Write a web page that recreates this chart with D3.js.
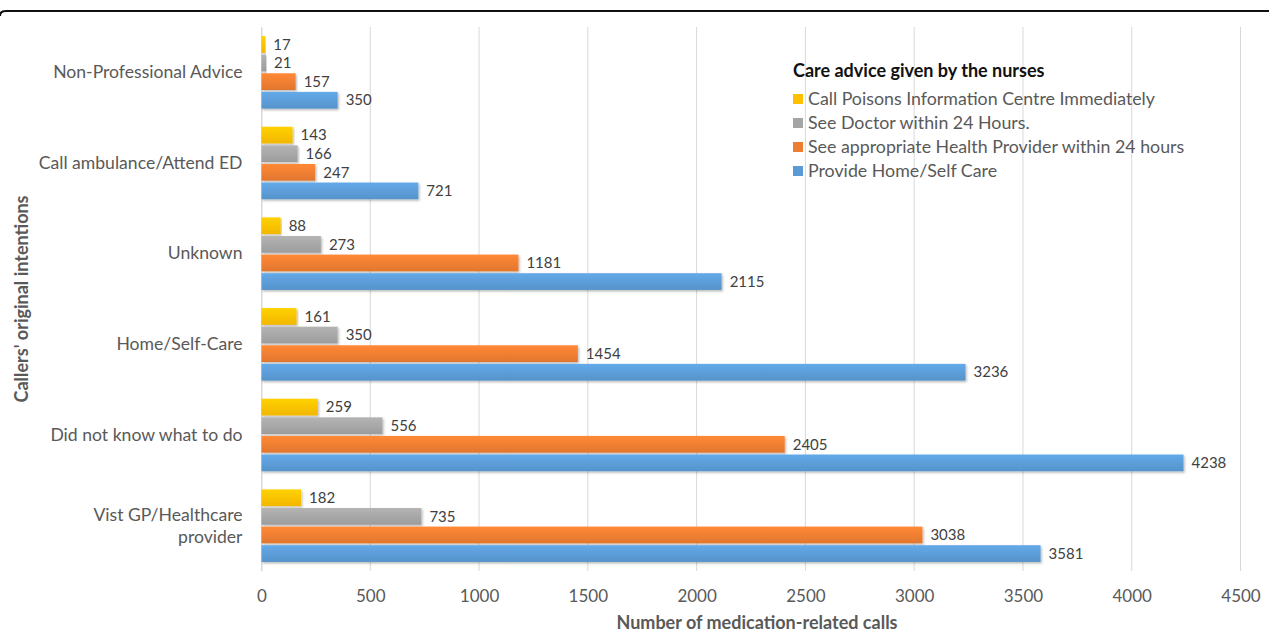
<!DOCTYPE html>
<html><head><meta charset="utf-8">
<script src="https://cdn.jsdelivr.net/npm/d3@7"></script>
<style>html,body{margin:0;padding:0;background:#fff;}svg{display:block;}</style>
</head><body>
<svg id="c" width="1269" height="632"></svg>
<script>
const categories = ["Non-Professional Advice","Call ambulance/Attend ED","Unknown","Home/Self-Care","Did not know what to do","Vist GP/Healthcare provider"];
const seriesNames = ["Call Poisons Information Centre Immediately","See Doctor within 24 Hours.","See appropriate Health Provider within 24 hours","Provide Home/Self Care"];
const poisonsCentre = [17,143,88,161,259,182];
const seeDoctor = [21,166,273,350,556,735];
const healthProvider = [157,247,1181,1454,2405,3038];
const homeSelfCare = [350,721,2115,3236,4238,3581];
const xTicks = [0,500,1000,1500,2000,2500,3000,3500,4000,4500];
const colors = ["#FFC000","#A5A5A5","#ED7D31","#5B9BD5"];

const series = [poisonsCentre, seeDoctor, healthProvider, homeSelfCare];
const font = "Lato, 'Open Sans', sans-serif";
const svg = d3.select("#c");
const W = 1269, H = 632;
const m = {left:261.5, right:W-1240.5, top:27, bottom:H-571};

// top border
svg.append("path").attr("d","M0,16 Q0,11 6,11 L1269,11").attr("fill","none").attr("stroke","#111").attr("stroke-width",2);

const defs = svg.append("defs");
const f = defs.append("filter").attr("id","sh").attr("x","-5%").attr("y","-20%").attr("width","110%").attr("height","160%");
f.append("feDropShadow").attr("dx",1.2).attr("dy",1.5).attr("stdDeviation",1.0).attr("flood-color","#000").attr("flood-opacity",0.28);
colors.forEach((c,i)=>{
  const g = defs.append("linearGradient").attr("id","g"+i).attr("x1",0).attr("y1",0).attr("x2",0).attr("y2",1);
  g.append("stop").attr("offset","0%").attr("stop-color",d3.color(c).brighter(0.25));
  g.append("stop").attr("offset","100%").attr("stop-color",d3.color(c).darker(0.15));
});

const x = d3.scaleLinear().domain([0,4500]).range([m.left, W-m.right]);
const y = d3.scaleBand().domain(categories).range([m.top, H-m.bottom]).paddingInner(0.2).paddingOuter(0.1);
const y1 = d3.scaleBand().domain(d3.range(4)).range([0, y.bandwidth()]).paddingInner(0.1);

// gridlines
svg.append("g").selectAll("line").data(xTicks).join("line")
  .attr("x1",d=>x(d)).attr("x2",d=>x(d)).attr("y1",m.top).attr("y2",H-m.bottom)
  .attr("stroke","#D9D9D9").attr("stroke-width",1);

// x axis labels
const xa = svg.append("g").attr("transform",`translate(0,${H-m.bottom})`)
  .call(d3.axisBottom(x).tickValues(xTicks).tickSize(0).tickPadding(19).tickFormat(d3.format("d")));
xa.select(".domain").remove();
xa.selectAll("text").attr("font-family",font).attr("font-size",17).attr("fill","#595959");

// category labels
const ya = svg.append("g").attr("transform",`translate(${m.left},0)`)
  .call(d3.axisLeft(y).tickSize(0).tickPadding(19));
ya.select(".domain").attr("stroke","#D9D9D9");
ya.selectAll("text").attr("font-family",font).attr("font-size",17.6).attr("fill","#595959")
  .each(function(d){
    if(d==="Vist GP/Healthcare provider"){
      const t = d3.select(this); t.text(null);
      t.append("tspan").attr("x",-19).attr("dy","-0.25em").text("Vist GP/Healthcare");
      t.append("tspan").attr("x",-19).attr("dy","1.25em").text("provider");
    }
  });

// bars
const groups = svg.append("g").selectAll("g").data(categories).join("g")
  .attr("transform",d=>`translate(0,${y(d)})`);
series.forEach((vals,si)=>{
  groups.append("rect")
    .attr("x",x(0)).attr("y",y1(si))
    .attr("width",(d,i)=>x(vals[i])-x(0)).attr("height",y1.bandwidth())
    .attr("fill",`url(#g${si})`).attr("filter","url(#sh)");
  groups.append("text")
    .attr("x",(d,i)=>x(vals[i])+8).attr("y",y1(si)+y1.bandwidth()/2)
    .attr("dy","0.35em").attr("font-family",font).attr("font-size",15).attr("fill","#404040")
    .text((d,i)=>vals[i]);
});

// axis titles
svg.append("text").attr("x",757).attr("y",629).attr("text-anchor","middle")
  .attr("font-family",font).attr("font-weight","bold").attr("font-size",18).attr("fill","#595959")
  .text("Number of medication-related calls");
svg.append("text").attr("transform","translate(28,299) rotate(-90)").attr("text-anchor","middle")
  .attr("font-family",font).attr("font-weight","bold").attr("font-size",18).attr("fill","#595959")
  .text("Callers' original intentions");

// legend
const lg = svg.append("g").attr("transform","translate(793,0)");
lg.append("text").attr("x",0).attr("y",77).attr("font-family",font).attr("font-weight","bold")
  .attr("font-size",18).attr("fill","#111").text("Care advice given by the nurses");
seriesNames.forEach((n,i)=>{
  const yy = 99 + i*24;
  lg.append("rect").attr("x",0).attr("y",yy-5).attr("width",10).attr("height",10).attr("fill",colors[i]);
  lg.append("text").attr("x",15).attr("y",yy).attr("dy","0.35em").attr("font-family",font)
    .attr("font-size",17.8).attr("fill","#595959").text(n);
});
</script>
</body></html>
